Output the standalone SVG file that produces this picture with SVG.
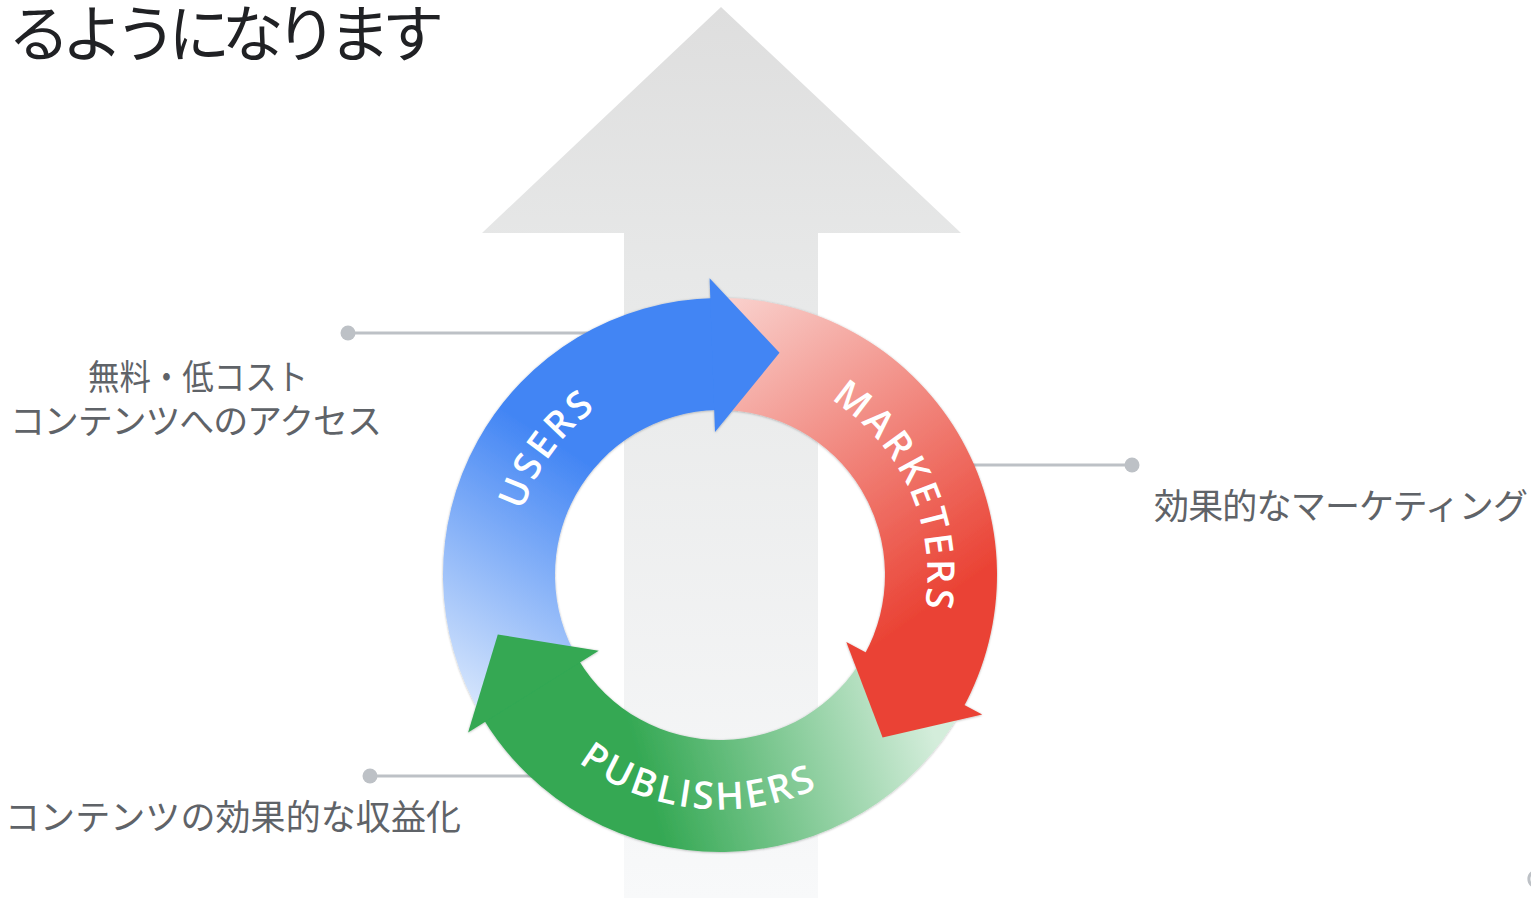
<svg xmlns="http://www.w3.org/2000/svg" width="1531" height="898" viewBox="0 0 1531 898">
  <defs>
    <linearGradient id="gArrow" x1="0" y1="7" x2="0" y2="898" gradientUnits="userSpaceOnUse">
      <stop offset="0" stop-color="#dedede"/>
      <stop offset="0.3" stop-color="#e7e8e8"/>
      <stop offset="1" stop-color="#f8f9fa"/>
    </linearGradient>
    <linearGradient id="gBlue" x1="460" y1="690" x2="600" y2="470" gradientUnits="userSpaceOnUse">
      <stop offset="0" stop-color="#d2e3fc"/>
      <stop offset="1" stop-color="#4285f4"/>
    </linearGradient>
    <linearGradient id="gRed" x1="730" y1="300" x2="940" y2="600" gradientUnits="userSpaceOnUse">
      <stop offset="0" stop-color="#f9d0cc"/>
      <stop offset="1" stop-color="#ea4335"/>
    </linearGradient>
    <linearGradient id="gGreen" x1="930" y1="720" x2="650" y2="800" gradientUnits="userSpaceOnUse">
      <stop offset="0" stop-color="#d4eddb"/>
      <stop offset="1" stop-color="#34a853"/>
    </linearGradient>
    <filter id="shadow" x="-10%" y="-10%" width="120%" height="120%">
      <feDropShadow dx="0" dy="0.5" stdDeviation="1" flood-color="#000" flood-opacity="0.3"/>
    </filter>
    <path id="pUsers" d="M530.35,659.43 A207.5,207.5 0 0 1 741.69,368.64"/>
    <path id="pMarketers" d="M741.69,368.64 A207.5,207.5 0 0 1 887.87,696.97"/>
    <path id="pPublishers" d="M505.78,670.38 A234.5,234.5 0 0 0 909.71,712.83"/>
  </defs>
  <style>
    .ring-text { font-family: "Open Sans", "Liberation Sans", sans-serif; font-size: 38px; font-weight: 600; fill: #ffffff; letter-spacing: 3px; }
    .label { font-family: "Noto Sans CJK JP", "Noto Sans", sans-serif; font-size: 35px; fill: #5f6368; }
    .title { font-family: "Noto Sans CJK JP", "Noto Sans", sans-serif; font-size: 62px; fill: #202124; }
    .conn { stroke: #bdc1c6; stroke-width: 3; fill: none; }
    .dot { fill: #bdc1c6; }
  </style>

  <rect x="0" y="0" width="1531" height="898" fill="#ffffff"/>

  <g id="title">
    <text class="title" x="8" y="57" textLength="436" lengthAdjust="spacing">るようになります</text>
  </g>

  <g id="growth-arrow">
    <polygon points="721,7 961,233 818,233 818,898 624,898 624,233 482,233" fill="url(#gArrow)"/>
  </g>

  <g id="connectors">
    <line class="conn" x1="348" y1="333" x2="610" y2="333"/>
    <circle class="dot" cx="348" cy="333" r="7.5"/>
    <line class="conn" x1="950" y1="465" x2="1132" y2="465"/>
    <circle class="dot" cx="1132" cy="465" r="7.5"/>
    <line class="conn" x1="370" y1="776" x2="545" y2="776"/>
    <circle class="dot" cx="370" cy="776" r="7.5"/>
  </g>

  <g id="cycle" filter="url(#shadow)">
    <g id="users-band">
      <path d="M482.56,717.67 A277,277 0 0 1 715.17,298.04 L717.12,410.02 A165,165 0 0 0 578.57,659.98 Z" fill="url(#gBlue)"/>
    </g>
    <g id="marketers-band">
      <path d="M715.17,298.04 A277,277 0 0 1 962.27,709.29 L864.31,654.99 A165,165 0 0 0 717.12,410.02 Z" fill="url(#gRed)"/>
    </g>
    <g id="publishers-band">
      <path d="M962.27,709.29 A277,277 0 0 1 482.56,717.67 L578.57,659.98 A165,165 0 0 0 864.31,654.99 Z" fill="url(#gGreen)"/>
    </g>
    <g id="users-head">
      <polygon points="709.6,278.2 779.5,352.8 715.0,432.1" fill="#4285f4"/>
    </g>
    <g id="marketers-head">
      <polygon points="982.2,714.4 882.6,737.6 846.3,642.1" fill="#ea4335"/>
    </g>
    <g id="publishers-head">
      <polygon points="468.1,732.4 497.8,634.5 598.7,650.8" fill="#34a853"/>
    </g>
  </g>

  <g id="users">
    <text class="ring-text"><textPath href="#pUsers" startOffset="50%" text-anchor="middle">USERS</textPath></text>
  </g>
  <g id="marketers">
    <text class="ring-text"><textPath href="#pMarketers" startOffset="50%" text-anchor="middle">MARKETERS</textPath></text>
  </g>
  <g id="publishers">
    <text class="ring-text"><textPath href="#pPublishers" startOffset="50%" text-anchor="middle">PUBLISHERS</textPath></text>
  </g>

  <g id="label-users">
    <text class="label" x="88" y="390" textLength="220" lengthAdjust="spacingAndGlyphs">無料・低コスト</text>
    <text class="label" x="10" y="434" textLength="372" lengthAdjust="spacing">コンテンツへのアクセス</text>
  </g>
  <g id="label-marketers">
    <text class="label" x="1154" y="519" textLength="374" lengthAdjust="spacing">効果的なマーケティング</text>
  </g>
  <g id="label-publishers">
    <text class="label" x="5" y="830" textLength="456" lengthAdjust="spacing">コンテンツの効果的な収益化</text>
  </g>

  <g id="corner-mark">
    <path d="M1533,872 A8,8 0 0 0 1533,886" stroke="#bdc1c6" stroke-width="3" fill="none"/>
  </g>
</svg>
